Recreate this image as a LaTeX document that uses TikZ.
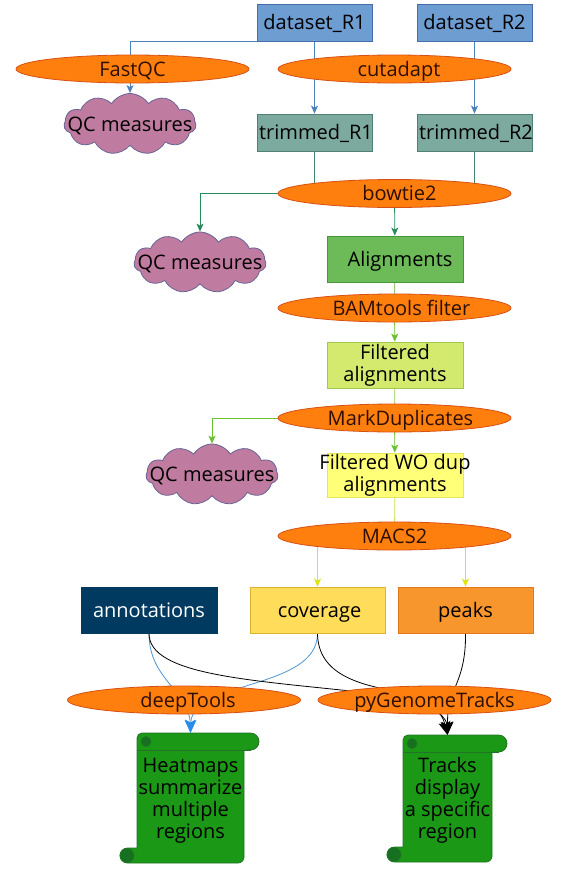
\documentclass[tikz,border=0pt]{standalone}
\usepackage{fontspec}
\setmainfont{Open Sans}
\usetikzlibrary{shapes.geometric,shapes.symbols,arrows.meta,calc}
\pgfdeclarelayer{bg}
\pgfdeclarelayer{edges}
\pgfsetlayers{bg,edges,main}

\definecolor{dsfill}{RGB}{110,157,210}
\definecolor{dsdraw}{RGB}{70,110,170}
\definecolor{trfill}{RGB}{124,170,158}
\definecolor{trdraw}{RGB}{80,130,115}
\definecolor{alfill}{RGB}{108,186,88}
\definecolor{aldraw}{RGB}{70,150,60}
\definecolor{fafill}{RGB}{212,234,110}
\definecolor{fadraw}{RGB}{160,200,80}
\definecolor{fwfill}{RGB}{255,255,120}
\definecolor{fwdraw}{RGB}{230,230,90}
\definecolor{anfill}{RGB}{0,58,96}
\definecolor{cvfill}{RGB}{255,220,90}
\definecolor{cvdraw}{RGB}{220,180,50}
\definecolor{pkfill}{RGB}{248,150,46}
\definecolor{pkdraw}{RGB}{225,120,30}
\definecolor{elfill}{RGB}{255,127,14}
\definecolor{eldraw}{RGB}{215,80,20}
\definecolor{eltext}{RGB}{45,15,0}
\definecolor{clfill}{RGB}{192,124,160}
\definecolor{cldraw}{RGB}{105,100,150}
\definecolor{scfill}{RGB}{26,152,22}
\definecolor{scdraw}{RGB}{35,115,40}
\definecolor{sccurl}{RGB}{22,112,32}
\definecolor{cA}{RGB}{79,129,189}
\definecolor{cB}{RGB}{70,130,110}
\definecolor{cC}{RGB}{40,140,90}
\definecolor{cD}{RGB}{100,170,70}
\definecolor{cE}{RGB}{110,190,50}
\definecolor{cF}{RGB}{150,200,80}
\definecolor{cG}{RGB}{205,222,70}
\definecolor{cH}{RGB}{225,225,20}
\definecolor{bline}{RGB}{80,150,210}
\definecolor{barrow}{RGB}{40,140,235}

% L R RR T B BL
\newcommand\drawscroll[6]{%
 \filldraw[scrollbody] ({#1},{#4+5}) .. controls ({#1},{#4+2.24}) and ({#1+2.24},{#4}) .. ({#1+5},{#4})
  -- ({#3-8.5},{#4}) .. controls ({#3-3.81},{#4}) and ({#3},{#4+3.81}) .. ({#3},{#4+8.5})
  .. controls ({#3},{#4+13.19}) and ({#3-3.81},{#4+17}) .. ({#3-8.5},{#4+17})
  -- ({#2},{#4+17}) -- ({#2},{#5-6}) .. controls ({#2},{#5-2.69}) and ({#2-2.69},{#5}) .. ({#2-6},{#5})
  -- ({#6+7.5},{#5}) .. controls ({#6+3.36},{#5}) and ({#6},{#5-3.36}) .. ({#6},{#5-7.5})
  .. controls ({#6},{#5-11.64}) and ({#6+3.36},{#5-15}) .. ({#6+7.5},{#5-15})
  -- ({#1},{#5-15}) -- cycle;
 \draw[scrollline] ({#1},{#4+17}) -- ({#3-8.5},{#4+17});
 \filldraw[scrollcurl] ({#1+9},{#4+8.5}) circle[radius=5pt];
 \filldraw[scrollcurl] ({#6+7},{#5-7.5}) circle[radius=7pt];
}

\begin{document}
\begin{tikzpicture}[x=1pt,y=-1pt,
  every node/.style={inner sep=0pt, font=\fontsize{20}{22}\selectfont, text height=16pt, text depth=2pt},
  ml/.style={align=center, text height={}, text depth={}},
  box/.style={rectangle, draw, line width=0.8pt},
  proc/.style={ellipse, fill=elfill, draw=eldraw, line width=0.8pt, minimum width=233pt, minimum height=28pt, text=eltext},
  qc/.style={cloud, cloud puffs=11, cloud puff arc=115, cloud ignores aspect, fill=clfill, draw=cldraw, line width=0.8pt, minimum width=132pt, minimum height=61pt},
  conn/.style={line width=0.8pt},
  tip/.style={-{Stealth[length=8pt,width=7pt,inset=2pt]}},
  bigtip/.style={-{Stealth[length=13pt,width=12pt,inset=3pt]}},
  bluetip/.style={-{Stealth[length=13pt,width=11pt,inset=3pt,color=barrow]}},
  scrollbody/.style={fill=scfill, draw=scdraw, line width=0.8pt},
  scrollline/.style={draw=scdraw, line width=0.6pt},
  scrollcurl/.style={fill=sccurl, draw=scdraw, line width=0.6pt},
]
\path[use as bounding box] (0,0) rectangle (588,873);
\begin{pgfonlayer}{bg}
\fill[white] (0,0) rectangle (588,873);
\end{pgfonlayer}

% boxes and processes
\node[box, fill=dsfill, draw=dsdraw, minimum width=115pt, minimum height=37pt] (d1) at (314.5,22.5) {dataset\_R1};
\node[box, fill=dsfill, draw=dsdraw, minimum width=115pt, minimum height=37pt] (d2) at (474.5,22.5) {dataset\_R2};
\node[proc] (fq) at (132.5,69) {FastQC};
\node[proc] (cu) at (394.5,69) {\hspace*{9pt}cutadapt};
\node[qc] (qc1) at (130,124) {\makebox[0pt]{QC measures}};
\node[box, fill=trfill, draw=trdraw, minimum width=115pt, minimum height=37pt] (t1) at (314.5,132.5) {\makebox[0pt]{\hspace*{3pt}trimmed\_R1}};
\node[box, fill=trfill, draw=trdraw, minimum width=115pt, minimum height=37pt] (t2) at (474.5,132.5) {\makebox[0pt]{\hspace*{3pt}trimmed\_R2}};
\node[proc] (bt) at (394.5,193.5) {\hspace*{10pt}bowtie2};
\node[qc] (qc2) at (200,262.5) {\makebox[0pt]{QC measures}};
\node[box, fill=alfill, draw=aldraw, minimum width=136pt, minimum height=46pt] (al) at (395,259) {\makebox[0pt]{\hspace{10pt}Alignments}};
\node[proc] (bam) at (394.5,308) {\hspace*{14pt}BAMtools filter};
\node[box, ml, fill=fafill, draw=fadraw, minimum width=136pt, minimum height=46pt] (fa) at (395,365) {Filtered\\alignments};
\node[proc] (md) at (394.5,418) {\hspace*{12pt}MarkDuplicates};
\node[qc] (qc3) at (212,474.5) {\makebox[0pt]{QC measures}};
\node[box, ml, fill=fwfill, draw=fwdraw, minimum width=136pt, minimum height=44pt] (fw) at (395,475) {\makebox[0pt]{Filtered WO dup}\\alignments};
\node[proc] (macs) at (394.5,536) {MACS2};
\node[box, fill=anfill, draw=anfill, text=white, minimum width=136pt, minimum height=46pt] (an) at (149,610) {annotations};
\node[box, fill=cvfill, draw=cvdraw, minimum width=135pt, minimum height=46pt] (cov) at (317.5,610) {\hspace*{4pt}coverage};
\node[box, fill=pkfill, draw=pkdraw, minimum width=135pt, minimum height=46pt] (pk) at (465.5,610) {peaks};
\node[proc] (dt) at (184,700) {\hspace*{8pt}deepTools};
\node[proc] (pg) at (434.5,700) {pyGenomeTracks};

% scrolls
\drawscroll{137}{244}{259}{733}{863}{120}
\node[ml, minimum width=107pt, minimum height=130pt] (heat) at (190.5,798) {\raisebox{-3pt}[\height][\depth]{\begin{tabular}{@{}c@{}}Heatmaps\\\makebox[0pt]{summarize}\\multiple\\regions\end{tabular}}};
\drawscroll{403}{492}{507}{735}{862}{387}
\node[ml, minimum width=89pt, minimum height=127pt] (tracks) at (447.5,798.5) {\raisebox{-3pt}[\height][\depth]{\begin{tabular}{@{}c@{}}Tracks\\display\\\makebox[0pt]{a specific}\\region\end{tabular}}};

% connectors
\begin{pgfonlayer}{edges}
\draw[conn, cA, tip] (d1.south west) -| (qc1);
\draw[conn, cA, tip] (d1) -- (t1);
\draw[conn, cA, tip] (d2) -- (t2);
\draw[conn, cB] (t1) -- (t1 |- bt);
\draw[conn, cB] (t2) -- (t2 |- bt);
\draw[conn, cC, tip] (bt) -| (qc2);
\draw[conn, cC, tip] (bt) -- (al);
\draw[conn, cD] (al) -- (bam);
\draw[conn, cE, tip] (bam) -- (fa);
\draw[conn, cF] (fa) -- (md);
\draw[conn, cE, tip] (md) -| (qc3);
\draw[conn, cE, tip] (md) -- (fw);
\draw[conn, cG] (fw) -- (macs);
\draw[conn, cH, tip] (macs.center -| cov) -- (cov);
\draw[conn, cH, tip] (macs.center -| pk) -- (pk);
% to heatmaps
\draw[conn, bline, bluetip] (an.south) .. controls (149,680) and (189,690) .. (heat.north);
\draw[conn, bline, bluetip] (cov.south) .. controls (317.5,690) and (192,680) .. (heat.north);
% to tracks
\draw[conn, black, bigtip] (an.south) .. controls (149,675) and (250,680) .. (360,692) .. controls (420,699) and (446,712) .. (tracks.north);
\draw[conn, black, bigtip] (cov.south) .. controls (318,675) and (360,685) .. (400,692) .. controls (430,697) and (442,712) .. (tracks.north);
\draw[conn, black, bigtip] (pk.south) .. controls (466,665) and (458,680) .. (452,695) .. controls (448,705) and (447.5,715) .. (tracks.north);
\end{pgfonlayer}
\end{tikzpicture}
\end{document}
